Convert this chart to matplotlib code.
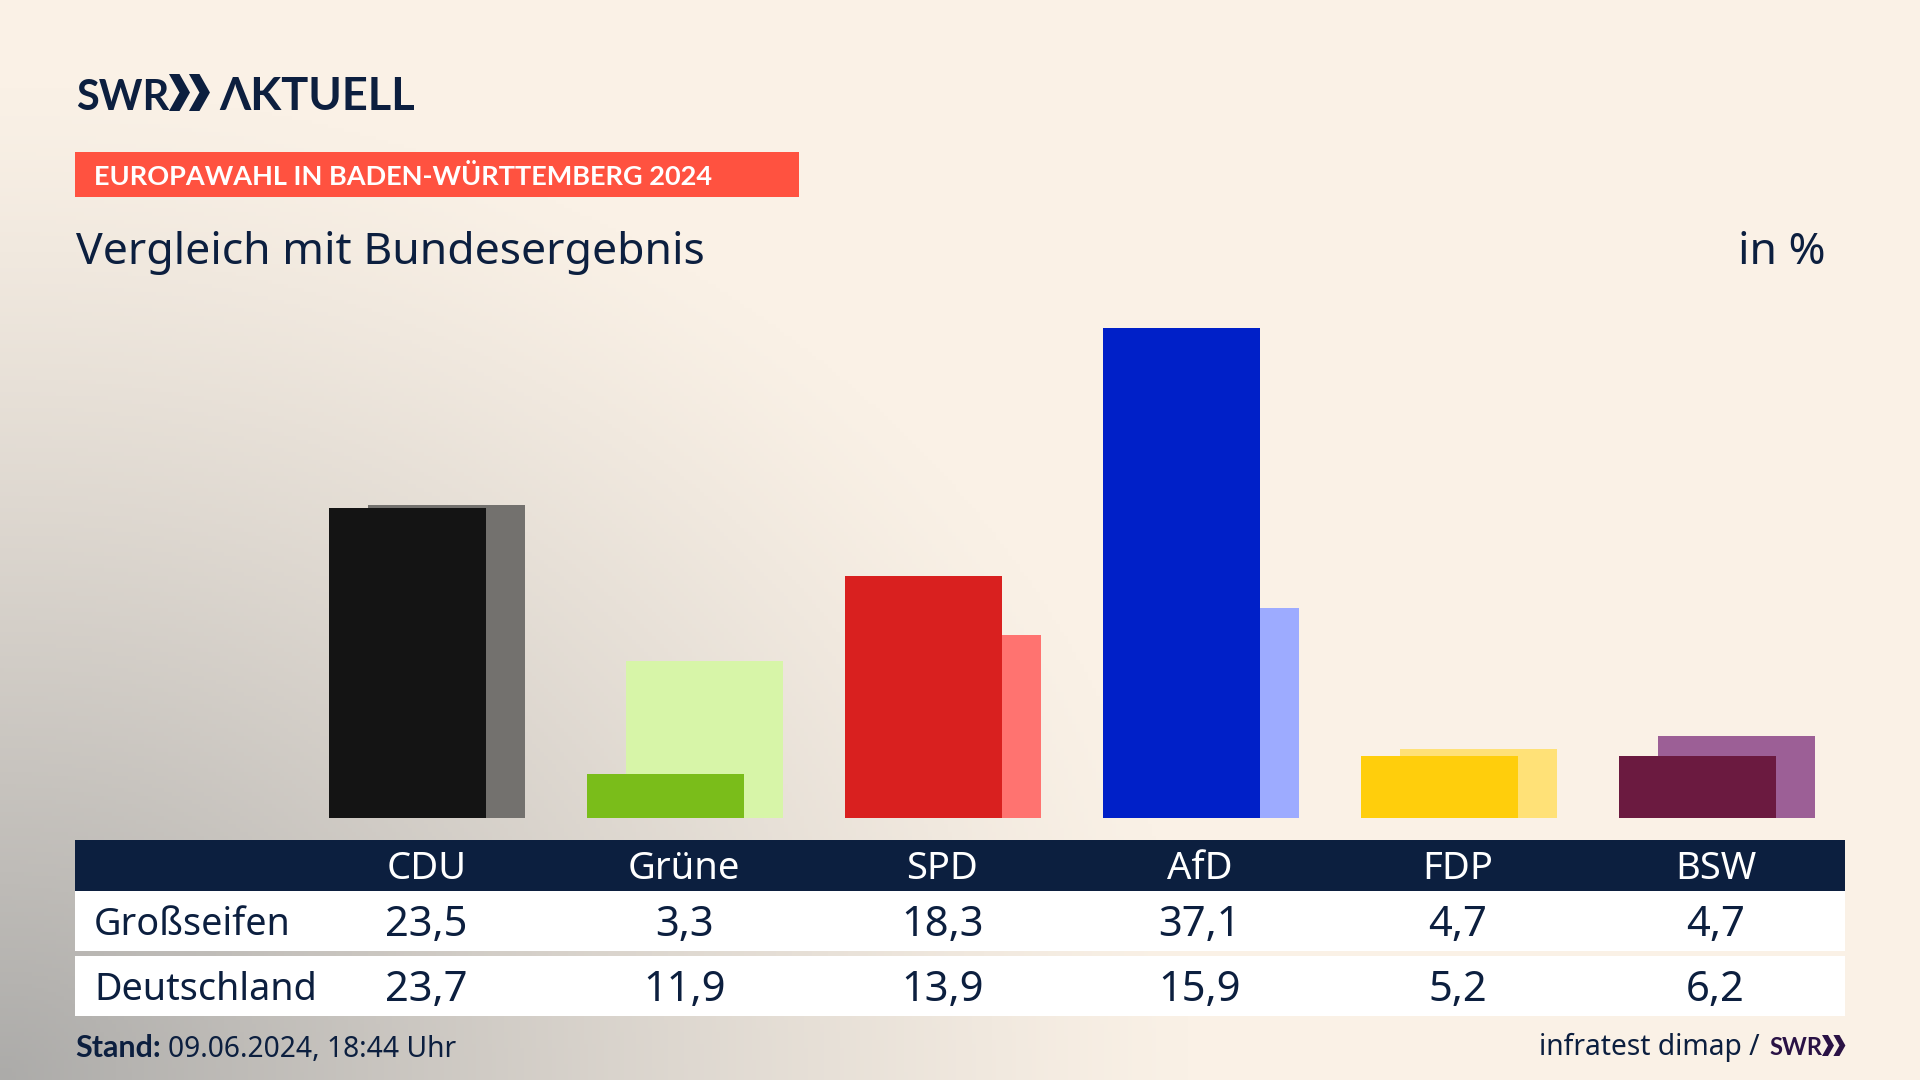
import matplotlib.pyplot as plt
from matplotlib import rcParams
from matplotlib.patches import Rectangle, Polygon
import numpy as np

rcParams['font.family'] = ['Noto Sans', 'DejaVu Sans']

FIGSIZE = (19.2, 10.8)
BOLD = ['Lato', 'Liberation Sans', 'DejaVu Sans']

parties = ['CDU', 'Grüne', 'SPD', 'AfD', 'FDP', 'BSW']
local_name = 'Großseifen'
national_name = 'Deutschland'
local_values = [23.5, 3.3, 18.3, 37.1, 4.7, 4.7]
national_values = [23.7, 11.9, 13.9, 15.9, 5.2, 6.2]
local_colors = ['#141414', '#7abd1a', '#d9201f', '#0020c8', '#ffce0c', '#6b1a40']
national_colors = ['#73716e', '#d7f5a8', '#ff7370', '#9dabff', '#ffe177', '#9c5f96']

NAVY = '#0c1f3f'


def background(fig):
    ax = fig.add_axes([0, 0, 1, 1])
    xs, ys = np.meshgrid(np.linspace(0, 1, 480), np.linspace(0, 1, 270))
    # grey glow from the lower left corner
    d = np.sqrt((xs / 0.62) ** 2 + ((1 - ys) / 0.92) ** 2)
    t = np.clip(1 - d, 0, 1) ** 1.2
    cream = np.array([250, 241, 230]) / 255
    grey = np.array([172, 171, 169]) / 255
    img = cream + (grey - cream) * t[..., None]
    ax.imshow(img, aspect='auto', extent=(0, 1920, 1080, 0))
    ax.axis('off')


def chevrons(ax, x, y0, y1, w, color):
    for dx in [0, w * 0.95]:
        ax.add_patch(Polygon([(x + dx, y0), (x + dx + w * 0.5, y0), (x + dx + w, (y0 + y1) / 2),
                              (x + dx + w * 0.5, y1), (x + dx, y1), (x + dx + w * 0.5, (y0 + y1) / 2)],
                             color=color, lw=0))


def bars(fig):
    ax = fig.add_axes([0, (1080 - 818) / 1080, 1, 818 / 1080])
    ax.patch.set_alpha(0)
    ind = np.arange(len(parties))
    ax.bar(ind + 0.151, national_values, 0.607, color=national_colors)
    ax.bar(ind, local_values, 0.607, color=local_colors)
    ax.set_xlim(-407.3 / 258, (1920 - 407.3) / 258)
    ax.set_ylim(0, 818 / 13.2)
    ax.axis('off')


def texts(fig):
    ax = fig.add_axes([0, 0, 1, 1])
    ax.patch.set_alpha(0)
    ax.set_xlim(0, 1920)
    ax.set_ylim(1080, 0)
    ax.axis('off')

    # logo
    ax.text(76, 110, 'SWR', fontsize=30, fontweight='bold', family=BOLD, color=NAVY, va='baseline')
    chevrons(ax, 169, 74, 111, 21, NAVY)
    ax.text(219, 110, 'ΛKTUELL', fontsize=32.5, fontweight='bold', family=BOLD, color=NAVY, va='baseline')

    # headline
    ax.add_patch(Rectangle((75, 152), 724, 45, color='#ff5240', lw=0))
    ax.text(94, 185, 'EUROPAWAHL IN BADEN-WÜRTTEMBERG 2024', fontsize=19.5, fontweight='bold', family=BOLD,
            color='white', va='baseline')
    ax.text(76, 264, 'Vergleich mit Bundesergebnis', fontsize=32.1, color=NAVY, va='baseline')
    ax.text(1826, 264, 'in %', fontsize=32.1, color=NAVY, va='baseline', ha='right')

    # table
    ax.add_patch(Rectangle((75, 840), 1770, 51, color=NAVY, lw=0))
    ax.add_patch(Rectangle((75, 891), 1770, 60, color='white', lw=0))
    ax.add_patch(Rectangle((75, 956), 1770, 60, color='white', lw=0))
    ax.text(94, 935, local_name, fontsize=27.2, color=NAVY, va='baseline')
    ax.text(94, 1000, national_name, fontsize=27.2, color=NAVY, va='baseline')
    for i, party in enumerate(parties):
        x = 426.5 + 257.8 * i
        ax.text(x, 879, party, fontsize=27.5, color='white', va='baseline', ha='center')
        ax.text(x, 936, f'{local_values[i]}'.replace('.', ','), fontsize=30, color=NAVY,
                va='baseline', ha='center')
        ax.text(x, 1001, f'{national_values[i]}'.replace('.', ','), fontsize=30, color=NAVY,
                va='baseline', ha='center')

    # footer
    ax.text(75, 1057, 'Stand:', fontsize=22, fontweight='bold', family=BOLD, color=NAVY, va='baseline')
    ax.text(168, 1057, '09.06.2024, 18:44 Uhr', fontsize=20.3, color=NAVY, va='baseline')
    ax.text(1760, 1055, 'infratest dimap /', fontsize=20.3, color=NAVY, va='baseline', ha='right')
    ax.text(1769, 1055, 'SWR', fontsize=17, fontweight='bold', family=BOLD, color='#2a1245', va='baseline')
    chevrons(ax, 1822, 1035, 1056, 12, '#2a1245')


def plot():
    fig = plt.figure(figsize=FIGSIZE)
    background(fig)
    bars(fig)
    texts(fig)
    fig.savefig('out.png', dpi=100)
    fig.clf()


if __name__ == "__main__":

    plot()
